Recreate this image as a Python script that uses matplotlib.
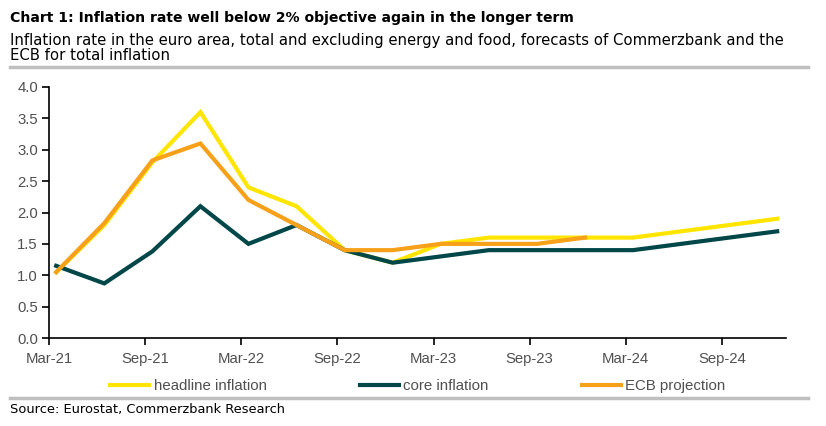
import numpy as np
import matplotlib.pyplot as plt
from matplotlib.lines import Line2D

plt.rcParams['font.family'] = ['Liberation Sans', 'DejaVu Sans']

# quarterly observations / forecasts, Q1-21 .. Q4-24
quarters = ['Q1-21', 'Q2-21', 'Q3-21', 'Q4-21', 'Q1-22', 'Q2-22', 'Q3-22', 'Q4-22',
            'Q1-23', 'Q2-23', 'Q3-23', 'Q4-23', 'Q1-24', 'Q2-24', 'Q3-24', 'Q4-24']
headline = [1.05, 1.8, 2.8, 3.6, 2.4, 2.1, 1.4, 1.2, 1.5, 1.6, 1.6, 1.6, 1.6, 1.7, 1.8, 1.9]
core = [1.15, 0.87, 1.38, 2.1, 1.5, 1.8, 1.4, 1.2, 1.3, 1.4, 1.4, 1.4, 1.4, 1.5, 1.6, 1.7]
ecb = [1.05, 1.83, 2.83, 3.1, 2.2, 1.8, 1.4, 1.4, 1.5, 1.5, 1.5, 1.6]

tick_labels = ['Mar-21', 'Sep-21', 'Mar-22', 'Sep-22', 'Mar-23', 'Sep-23', 'Mar-24', 'Sep-24']

# x in months after Mar-21
xq = np.arange(len(quarters)) * 3 + 0.45
xt = np.arange(len(tick_labels)) * 6

c_head = '#FFE500'
c_core = '#00474A'
c_ecb = '#F7A11A'
c_txt = '#505050'

fig = plt.figure(figsize=(8.26, 4.26), dpi=100)
ax = fig.add_axes([49/826, 1-338/426, (786-49)/826, (338-87)/426])

lw = 3.0
ax.plot(xq, headline, color=c_head, lw=lw, solid_joinstyle='miter', zorder=2)
ax.plot(xq, core, color=c_core, lw=lw, solid_joinstyle='miter', zorder=3)
ax.plot(xq[:len(ecb)], ecb, color=c_ecb, lw=lw, solid_joinstyle='miter', zorder=4)

ax.set_xlim(0, 46.0)
ax.set_ylim(0, 4.0)
ax.set_yticks(np.arange(0, 4.01, 0.5))
ax.set_yticklabels([f'{v:.1f}' for v in np.arange(0, 4.01, 0.5)])
ax.set_xticks(xt)
ax.set_xticklabels(tick_labels)
ax.tick_params(axis='both', direction='out', length=5, width=1.2, color='black',
               labelsize=10.7, labelcolor=c_txt)
ax.tick_params(axis='x', pad=5)
ax.tick_params(axis='y', pad=3)
for s in ['top', 'right']:
    ax.spines[s].set_visible(False)
for s in ['left', 'bottom']:
    ax.spines[s].set_linewidth(1.2)

handles = [Line2D([], [], color=c_head, lw=lw),
           Line2D([], [], color=c_core, lw=lw),
           Line2D([], [], color=c_ecb, lw=lw)]
labels = ['headline inflation', 'core inflation', 'ECB projection']
leg = fig.legend(handles, labels, loc='center', bbox_to_anchor=(0.5 + 5/826, 1-386/426), ncol=3,
                 frameon=False, handlelength=2.6, handletextpad=0.3, columnspacing=6.2,
                 prop={'size': 10.8})
for t in leg.get_texts():
    t.set_color(c_txt)

head_font = ['DejaVu Sans']
fig.text(10/826, 1-18/426, 'Chart 1: Inflation rate well below 2% objective again in the longer term',
         fontsize=10.1, fontweight='bold', va='center', ha='left', color='black', family=head_font)
fig.text(10/826, 1-40/426, 'Inflation rate in the euro area, total and excluding energy and food, '
         'forecasts of Commerzbank and the', fontsize=10.75, va='center', ha='left',
         color='black', family=head_font)
fig.text(10/826, 1-55/426, 'ECB for total inflation', fontsize=10.75, va='center', ha='left',
         color='black', family=head_font)
fig.text(10/826, 1-410/426, 'Source: Eurostat, Commerzbank Research', fontsize=9.4,
         va='center', ha='left', color='black', family=head_font)

for yy in [67, 398]:
    fig.add_artist(Line2D([10/826, 808/826], [1-yy/426, 1-yy/426], color='#BFBFBF', lw=2.5))

fig.savefig('out.png', dpi=100)
